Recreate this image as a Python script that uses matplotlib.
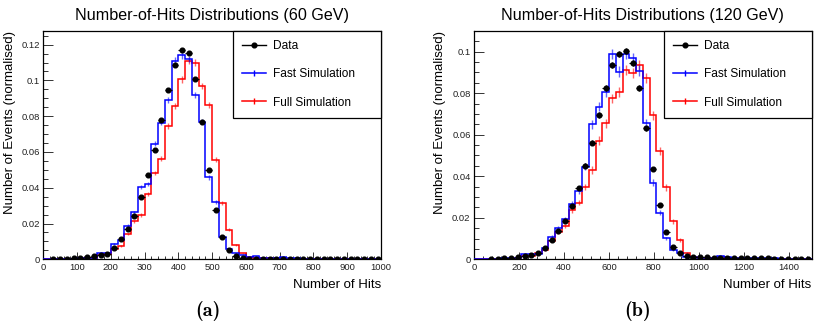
import numpy as np
import matplotlib
matplotlib.use("Agg")
import matplotlib.pyplot as plt
from matplotlib.lines import Line2D
from matplotlib.ticker import MultipleLocator, FixedLocator, FixedFormatter

plt.rcParams['font.family'] = ['Liberation Sans', 'DejaVu Sans']

# ---------------- data: 60 GeV (bin width 20, 0..1000) ----------------
edges_60 = np.arange(0, 1001, 20)
fast_60 = [0, 0, 0, 0.0002, 0.0004, 0.0008, 0.0008, 0.0010, 0.0038, 0.0036,
           0.0084, 0.0106, 0.0187, 0.0262, 0.0402, 0.0422, 0.0647, 0.0764, 0.0888, 0.1110,
           0.1140, 0.1120, 0.0921, 0.0770, 0.0458, 0.0322, 0.0127, 0.0056, 0.0034, 0.0024,
           0.0011, 0.0016, 0.0009, 0.0009, 0.0009, 0.0014, 0.0009, 0.0005, 0.0004, 0.0004,
           0.0003, 0.0003, 0.0003, 0.0002, 0.0002, 0.0002, 0.0002, 0.0001, 0.0001, 0.0001]
full_60 = [0, 0, 0, 0.0002, 0.0003, 0.0005, 0.0006, 0.0010, 0.0022, 0.0028,
           0.0060, 0.0076, 0.0143, 0.0212, 0.0248, 0.0364, 0.0482, 0.0562, 0.0744, 0.0856,
           0.1006, 0.1110, 0.1100, 0.0968, 0.0865, 0.0557, 0.0315, 0.0166, 0.0078, 0.0033,
           0.0012, 0.0006, 0.0005, 0.0005, 0.0004, 0.0004, 0.0004, 0.0003, 0.0003, 0.0003,
           0.0002, 0.0002, 0.0002, 0.0002, 0.0002, 0.0001, 0.0001, 0.0001, 0.0001, 0.0001]
data_60 = [np.nan, 0.0001, 0.0002, 0.0004, 0.0005, 0.0010, 0.0013, 0.0017, 0.0023, 0.0031,
           0.0065, 0.0112, 0.0172, 0.0244, 0.0346, 0.0469, 0.0613, 0.0776, 0.0944, 0.1086,
           0.1168, 0.1151, 0.1006, 0.0768, 0.0499, 0.0273, 0.0125, 0.0052, 0.0021, 0.0008,
           0.0004, 0.0003, 0.0003, 0.0003, 0.0003, 0.0003, 0.0002, 0.0002, 0.0002, 0.0002,
           0.0002, 0.0002, 0.0002, 0.0002, 0.0002, 0.0002, 0.0002, 0.0002, 0.0002, 0.0002]

# ---------------- data: 120 GeV (bin width 30, 0..1500) ----------------
edges_120 = np.arange(0, 1501, 30)
fast_120 = [0, 0, 0.0002, 0.0003, 0.0004, 0.0005, 0.0008, 0.0026, 0.0026, 0.0024,
            0.0056, 0.0107, 0.0149, 0.0193, 0.0266, 0.0330, 0.0446, 0.0651, 0.0735, 0.0804,
            0.0989, 0.0904, 0.0989, 0.0968, 0.0909, 0.0655, 0.0369, 0.0225, 0.0101, 0.0045,
            0.0029, 0.0013, 0.0009, 0.0008, 0.0008, 0.0008, 0.0016, 0.0009, 0.0006, 0.0006,
            0.0005, 0.0005, 0.0004, 0.0004, 0.0004, 0.0003, 0.0003, 0.0003, 0.0002, 0.0002]
full_120 = [0, 0, 0, 0.0001, 0.0002, 0.0003, 0.0004, 0.0016, 0.0018, 0.0028,
            0.0045, 0.0090, 0.0133, 0.0160, 0.0237, 0.0273, 0.0347, 0.0430, 0.0572, 0.0655,
            0.0775, 0.0807, 0.0912, 0.0896, 0.0936, 0.0874, 0.0694, 0.0523, 0.0346, 0.0183,
            0.0093, 0.0029, 0.0010, 0.0006, 0.0005, 0.0005, 0.0004, 0.0004, 0.0004, 0.0003,
            0.0003, 0.0003, 0.0002, 0.0002, 0.0002, 0.0002, 0.0001, 0.0001, 0.0001, 0.0001]
data_120 = [np.nan, np.nan, 0.0001, 0.0002, 0.0004, 0.0008, 0.0011, 0.0018, 0.0022, 0.0031,
            0.0053, 0.0091, 0.0136, 0.0186, 0.0257, 0.0343, 0.0451, 0.0562, 0.0695, 0.0824,
            0.0935, 0.0988, 0.1004, 0.0945, 0.0824, 0.0631, 0.0436, 0.0262, 0.0133, 0.0061,
            0.0030, 0.0016, 0.0013, 0.0010, 0.0009, 0.0008, 0.0008, 0.0007, 0.0006, 0.0005,
            0.0005, 0.0004, 0.0004, 0.0004, 0.0003, 0.0003, 0.0003, 0.0003, 0.0002, 0.0002]

titles = ["Number-of-Hits Distributions (60 GeV)", "Number-of-Hits Distributions (120 GeV)"]
panel_labels = ["(a)", "(b)"]
legend_labels = ["Data", "Fast Simulation", "Full Simulation"]
xlabel = "Number of Hits"
ylabel = "Number of Events (normalised)"
xticks_60 = [0, 100, 200, 300, 400, 500, 600, 700, 800, 900, 1000]
xticks_120 = [0, 200, 400, 600, 800, 1000, 1200, 1400]
yticks_60 = [0, 0.02, 0.04, 0.06, 0.08, 0.1, 0.12]
yticklabels_60 = ["0", "0.02", "0.04", "0.06", "0.08", "0.1", "0.12"]
yticks_120 = [0, 0.02, 0.04, 0.06, 0.08, 0.1]
yticklabels_120 = ["0", "0.02", "0.04", "0.06", "0.08", "0.1"]

BLUE = "#0000ff"
RED = "#ff0000"

fig = plt.figure(figsize=(8.19, 3.29), dpi=100)
W, H = 819, 329
ax1 = fig.add_axes([43.3 / W, (H - 259.3) / H, 337.7 / W, 228.6 / H])
ax2 = fig.add_axes([474.0 / W, (H - 259.3) / H, 337.5 / W, 228.6 / H])

def draw(ax, edges, fast, full, data, errk, xmax, ymax, xticks, xminor, yticks, yticklabels,
         title, plabel, plabel_x):
    fast = np.asarray(fast, float)
    full = np.asarray(full, float)
    data = np.asarray(data, float)
    centers = 0.5 * (edges[:-1] + edges[1:])
    bw = edges[1] - edges[0]
    ax.stairs(full, edges, color=RED, lw=1.1, baseline=0, zorder=2)
    ax.errorbar(centers, full, yerr=errk * np.sqrt(full), fmt='none', ecolor=RED,
                elinewidth=1.0, alpha=0.6, zorder=2)
    ax.stairs(fast, edges, color=BLUE, lw=1.1, baseline=0, zorder=3)
    ax.errorbar(centers, fast, yerr=errk * np.sqrt(fast), fmt='none', ecolor=BLUE,
                elinewidth=1.0, alpha=0.6, zorder=3)
    ax.errorbar(centers, data, yerr=0.6 * errk * np.sqrt(np.nan_to_num(data)),
                xerr=0.5 * bw, fmt='o', color='black', ms=3.4, elinewidth=0.8,
                capsize=0, zorder=4)
    ax.set_xlim(0, xmax)
    ax.set_ylim(0, ymax)
    ax.xaxis.set_major_locator(FixedLocator(xticks))
    ax.xaxis.set_minor_locator(MultipleLocator(xminor))
    ax.yaxis.set_major_locator(FixedLocator(yticks))
    ax.yaxis.set_major_formatter(FixedFormatter(yticklabels))
    ax.yaxis.set_minor_locator(MultipleLocator(0.005))
    ax.tick_params(axis='both', which='both', direction='in', top=False, right=False,
                   labelsize=6.8, width=0.7, colors='#333333', labelcolor='#222222')
    ax.tick_params(axis='x', which='major', length=5.0, pad=2.5)
    ax.tick_params(axis='x', which='minor', length=2.5)
    ax.tick_params(axis='y', which='major', length=7.0, pad=2.5)
    ax.tick_params(axis='y', which='minor', length=3.5)
    for s in ax.spines.values():
        s.set_linewidth(0.9)
        s.set_color('black')
    ax.set_xlabel(xlabel, loc='right', fontsize=9.5, labelpad=5)
    ax.set_ylabel(ylabel, loc='top', fontsize=9.5, labelpad=4)
    ax.set_title(title, fontsize=11.6, pad=8)
    handles = [Line2D([], [], color='black', marker='o', ms=3.4, lw=1.0),
               Line2D([], [], color=BLUE, marker='|', ms=5, mew=1.0, lw=1.1),
               Line2D([], [], color=RED, marker='|', ms=5, mew=1.0, lw=1.1)]
    leg = ax.legend(handles, legend_labels, loc='upper left',
                    bbox_to_anchor=(0.562, 0.0, 0.438, 1.0), mode='expand',
                    borderaxespad=0, fontsize=8.6, frameon=True, fancybox=False,
                    framealpha=1, edgecolor='black', labelspacing=1.37, borderpad=0.77,
                    handlelength=2.0, handletextpad=0.6)
    leg.get_frame().set_linewidth(0.9)
    fig.text(plabel_x / W, 1 - 311 / H, plabel, ha='center', va='center',
             fontsize=14.5, family='cmb10')

draw(ax1, edges_60, fast_60, full_60, data_60, 0.0056, 1000, 0.1278, xticks_60, 20,
     yticks_60, yticklabels_60, titles[0], panel_labels[0], 207.5)
draw(ax2, edges_120, fast_120, full_120, data_120, 0.0083, 1500, 0.1101, xticks_120, 40,
     yticks_120, yticklabels_120, titles[1], panel_labels[1], 638)

fig.savefig("out.png", dpi=100)
